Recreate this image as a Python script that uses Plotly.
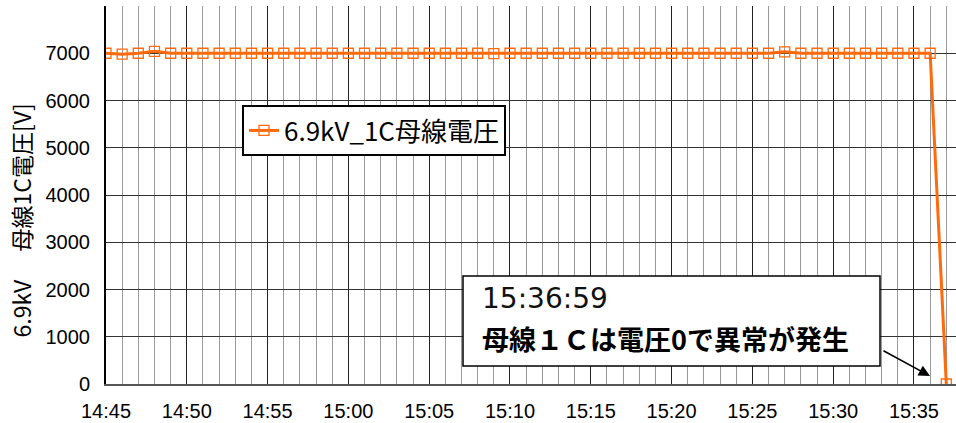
import pandas as pd
import plotly.graph_objects as go

# Time categories: one sample per minute from 14:45 to 15:37
times = pd.date_range("2020-01-01 14:45:00", "2020-01-01 15:37:00", freq="1min")

# Bus voltage [V]
voltage = [
    7000, 6980, 7000, 7040, 7000, 7000, 7000, 7000, 7000, 7000,   # 14:45-14:54
    7000, 7000, 7000, 7000, 7000, 7000, 7000, 7000, 7000, 7000,   # 14:55-15:04
    7000, 7000, 7000, 7000, 6990, 7000, 7000, 7000, 7000, 7000,   # 15:05-15:14
    7000, 7000, 7000, 7000, 7000, 7000, 7000, 7000, 7000, 7000,   # 15:15-15:24
    7000, 7000, 7030, 7000, 7000, 7000, 7000, 7000, 7000, 7000,   # 15:25-15:34
    7000, 7000, 0,                                               # 15:35-15:37
]

y_ticks = [0, 1000, 2000, 3000, 4000, 5000, 6000, 7000, 8000]
y_tick_text = ["0", "1000", "2000", "3000", "4000", "5000", "6000", "7000", ""]

series_name = "6.9kV_1C母線電圧"
y_title = "6.9kV　 母線1C電圧[V]"
note_time = "15:36:59"
note_text = "母線１Ｃは電圧0で異常が発生"

ORANGE = "#FF6A0D"
FONT = "Liberation Sans, Noto Sans CJK JP, sans-serif"
JFONT = "Noto Sans CJK JP, Liberation Sans, sans-serif"

fig = go.Figure()
fig.add_trace(go.Scatter(
    x=times, y=voltage, mode="lines+markers", name=series_name,
    line=dict(color=ORANGE, width=3),
    marker=dict(symbol="square-open", size=10, color=ORANGE, line=dict(width=1.3)),
))

fig.update_layout(
    width=956, height=423,
    margin=dict(l=106, r=0, t=6, b=39, autoexpand=False),
    paper_bgcolor="white", plot_bgcolor="white",
    font=dict(family=FONT, size=20, color="black"),
    showlegend=True,
    legend=dict(
        x=0.16, y=0.738, xanchor="left", yanchor="top",
        bordercolor="black", borderwidth=2, bgcolor="white",
        font=dict(family=JFONT, size=26, color="black"),
        itemwidth=30,
    ),
    xaxis=dict(
        type="date", automargin=False,
        range=["2020-01-01 14:45:00", "2020-01-01 15:37:36"],
        dtick=300000, tick0="2020-01-01 14:45:00",
        tickformat="%H:%M",
        showgrid=True, gridcolor="#222222", gridwidth=1,
        minor=dict(dtick=60000, showgrid=True, gridcolor="#9a9a9a", gridwidth=1),
        showline=True, linecolor="#555555", linewidth=2,
        ticks="", ticklabelstandoff=8,
        tickfont=dict(family=FONT, size=20),
        zeroline=False,
    ),
    yaxis=dict(
        range=[0, 8000], automargin=False,
        tickvals=y_ticks, ticktext=y_tick_text,
        showgrid=True, gridcolor="#333333", gridwidth=1,
        showline=True, linecolor="black", linewidth=2,
        ticks="", ticklabelstandoff=10,
        tickfont=dict(family=FONT, size=20),
        zeroline=False,
    ),
)

# y axis title
fig.add_annotation(
    xref="paper", yref="paper", x=-0.1, y=0.4325,
    xanchor="center", yanchor="middle",
    text=y_title, textangle=-90, showarrow=False,
    font=dict(family=JFONT, size=23, color="black"),
)

# annotation box
fig.add_shape(
    type="rect", xref="paper", yref="paper",
    x0=0.42, x1=0.9106, y0=0.0476, y1=0.2857,
    line=dict(color="black", width=1.5), fillcolor="white", layer="above",
)
fig.add_annotation(
    xref="paper", yref="paper", x=0.44, y=0.227,
    xanchor="left", yanchor="middle",
    text=note_time, showarrow=False,
    font=dict(family="DejaVu Sans, sans-serif", size=28, color="#111111"),
)
fig.add_annotation(
    xref="paper", yref="paper", x=0.44, y=0.12,
    xanchor="left", yanchor="middle",
    text="<b>" + note_text + "</b>", showarrow=False,
    font=dict(family=JFONT, size=27, color="black"),
)
# arrow
fig.add_annotation(
    xref="paper", yref="paper", x=0.9694, y=0.0212,
    axref="pixel", ayref="pixel", ax=-48, ay=-26,
    text="", showarrow=True, arrowhead=2, arrowsize=1.4,
    arrowwidth=1.6, arrowcolor="black",
)

fig.write_html("out.html", config={"displayModeBar": False},
               post_script="document.body.style.margin='0';")
